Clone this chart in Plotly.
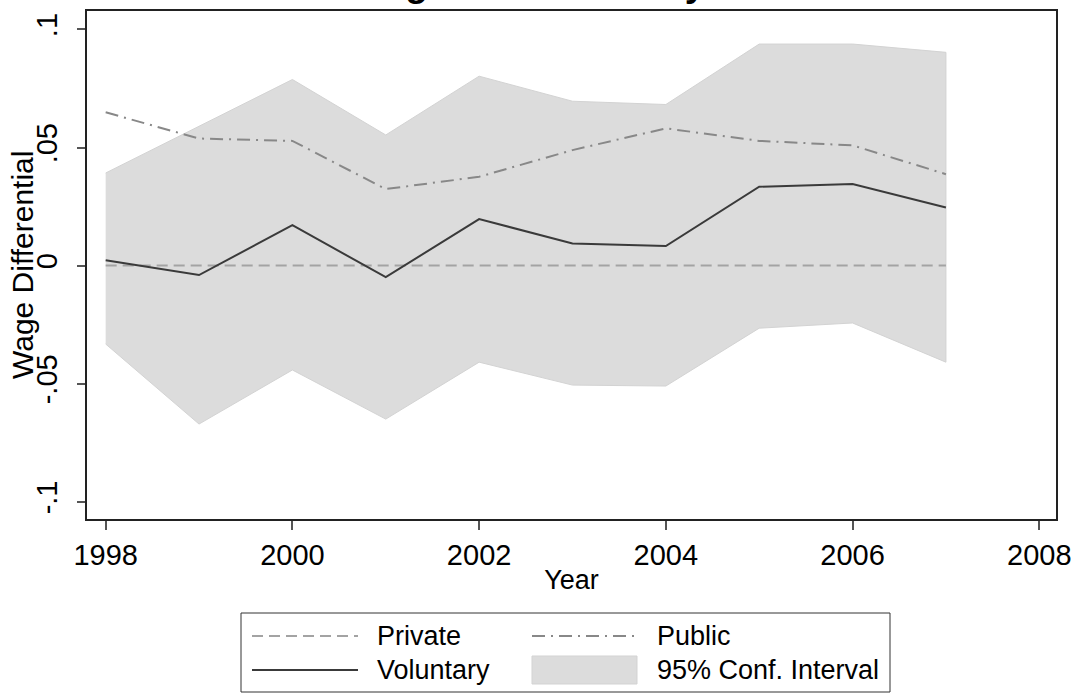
import plotly.graph_objects as go

# ---- data ----
years = [1998, 1999, 2000, 2001, 2002, 2003, 2004, 2005, 2006, 2007]
private = [0, 0, 0, 0, 0, 0, 0, 0, 0, 0]
public = [0.0649, 0.0538, 0.0528, 0.0324, 0.0376, 0.0489, 0.0581, 0.0528, 0.0509, 0.0387]
voluntary = [0.0023, -0.0040, 0.0171, -0.0049, 0.0197, 0.0094, 0.0083, 0.0334, 0.0345, 0.0246]
ci_upper = [0.0392, 0.0591, 0.0788, 0.0553, 0.0802, 0.0696, 0.0682, 0.0938, 0.0938, 0.0903]
ci_lower = [-0.0332, -0.0671, -0.0442, -0.0650, -0.0409, -0.0506, -0.0510, -0.0265, -0.0243, -0.0409]

x_ticks = [1998, 2000, 2002, 2004, 2006, 2008]
x_ticktext = ["1998", "2000", "2002", "2004", "2006", "2008"]
y_ticks = [-0.1, -0.05, 0, 0.05, 0.1]
y_ticktext = ["-.1", "-.05", "0", ".05", ".1"]

title_text = "Wage Differential by Year"
x_title = "Year"
y_title = "Wage Differential"
legend_labels = ["Private", "Public", "Voluntary", "95% Conf. Interval"]

# ---- styling ----
W, H = 1076, 697
ML, MR, MT, MB = 87, 20, 11, 178
PW, PH = W - ML - MR, H - MT - MB
FONT = "Liberation Sans, Arial, sans-serif"
C_CI = "#dcdcdc"
C_CI_EDGE = "#d3d3d3"
C_PRIV = "#a3a3a3"
C_PUB = "#888888"
C_VOL = "#3a3a3a"
DASH_PRIV = "11px,6px"
DASH_PUB = "13px,6px,2px,6px"


def px2x(px):
    return (px - ML) / PW


def px2y(py):
    return (H - MB - py) / PH


fig = go.Figure()

fig.add_trace(go.Scatter(
    x=years + years[::-1], y=ci_upper + ci_lower[::-1],
    fill="toself", fillcolor=C_CI, mode="lines",
    line=dict(color=C_CI_EDGE, width=1), name=legend_labels[3],
    showlegend=False, hoverinfo="skip"))
fig.add_trace(go.Scatter(
    x=years, y=private, mode="lines", name=legend_labels[0],
    line=dict(color=C_PRIV, width=2, dash=DASH_PRIV), showlegend=False))
fig.add_trace(go.Scatter(
    x=years, y=public, mode="lines", name=legend_labels[1],
    line=dict(color=C_PUB, width=2, dash=DASH_PUB), showlegend=False))
fig.add_trace(go.Scatter(
    x=years, y=voluntary, mode="lines", name=legend_labels[2],
    line=dict(color=C_VOL, width=2), showlegend=False))

# ---- legend box (drawn like Stata's two-column legend) ----
LX0, LX1, LY0, LY1 = 241, 890, 613, 692
ROW1, ROW2 = 636, 670
COL1_S, COL1_E, COL1_T = 252, 358, 375
COL2_S, COL2_E, COL2_T = 532, 637, 655

shapes = [
    dict(type="rect", xref="paper", yref="paper",
         x0=px2x(LX0), x1=px2x(LX1), y0=px2y(LY1), y1=px2y(LY0),
         line=dict(color="#333333", width=1), fillcolor="white", layer="below"),
    dict(type="line", xref="paper", yref="paper",
         x0=px2x(COL1_S), x1=px2x(COL1_E), y0=px2y(ROW1), y1=px2y(ROW1),
         line=dict(color=C_PRIV, width=2, dash=DASH_PRIV)),
    dict(type="line", xref="paper", yref="paper",
         x0=px2x(COL2_S), x1=px2x(COL2_E), y0=px2y(ROW1), y1=px2y(ROW1),
         line=dict(color=C_PUB, width=2, dash=DASH_PUB)),
    dict(type="line", xref="paper", yref="paper",
         x0=px2x(COL1_S), x1=px2x(COL1_E), y0=px2y(ROW2), y1=px2y(ROW2),
         line=dict(color=C_VOL, width=2)),
    dict(type="rect", xref="paper", yref="paper",
         x0=px2x(COL2_S), x1=px2x(COL2_E), y0=px2y(ROW2 + 14), y1=px2y(ROW2 - 14),
         line=dict(color=C_CI_EDGE, width=1), fillcolor=C_CI),
]

annotations = []
for lab, cx, ry in [(legend_labels[0], COL1_T, ROW1), (legend_labels[1], COL2_T, ROW1),
                    (legend_labels[2], COL1_T, ROW2), (legend_labels[3], COL2_T, ROW2)]:
    annotations.append(dict(text=lab, xref="paper", yref="paper",
                            x=px2x(cx), y=px2y(ry), xanchor="left", yanchor="middle",
                            showarrow=False, font=dict(size=27, color="black", family=FONT)))

# y-axis title, tight against the rotated tick labels as in the reference
annotations.append(dict(text=y_title, xref="paper", yref="paper",
                        x=px2x(22), y=0.5, xanchor="center", yanchor="middle",
                        textangle=-90, showarrow=False,
                        font=dict(size=30, color="black", family=FONT)))

# title: sits mostly above the top edge, as in the reference (only descenders show)
annotations.append(dict(text="<b>" + title_text + "</b>", xref="paper", yref="paper",
                        x=0.5, y=px2y(6), xanchor="center", yanchor="bottom",
                        showarrow=False, font=dict(size=37, color="black", family=FONT)))

fig.update_layout(
    width=W, height=H,
    margin=dict(l=ML, r=MR, t=MT, b=MB, autoexpand=False),
    paper_bgcolor="white", plot_bgcolor="white",
    font=dict(family=FONT, color="black"),
    showlegend=False,
    shapes=shapes, annotations=annotations,
    xaxis=dict(
        range=[1997.80, 2008.179], tickvals=x_ticks, ticktext=x_ticktext,
        ticks="outside", ticklen=9, tickwidth=1.5, tickcolor="#555555",
        showgrid=False, zeroline=False, showline=True, linecolor="#222222",
        linewidth=2, mirror=True, tickfont=dict(size=29),
        title=dict(text=x_title, font=dict(size=27), standoff=0),
        automargin=False),
    yaxis=dict(
        range=[-0.1073, 0.1078], tickvals=y_ticks, ticktext=y_ticktext,
        tickangle=-90, ticks="outside", ticklen=8, tickwidth=1.5, tickcolor="#555555",
        showgrid=False, zeroline=False, showline=True, linecolor="#222222",
        linewidth=2, mirror=True, tickfont=dict(size=29), ticklabelstandoff=8,
        automargin=False),
)

# the page's default 8px body margin would shift the whole figure; remove it
fig.write_html("out.html", config={"displayModeBar": False},
               post_script="document.body.style.margin='0';")
